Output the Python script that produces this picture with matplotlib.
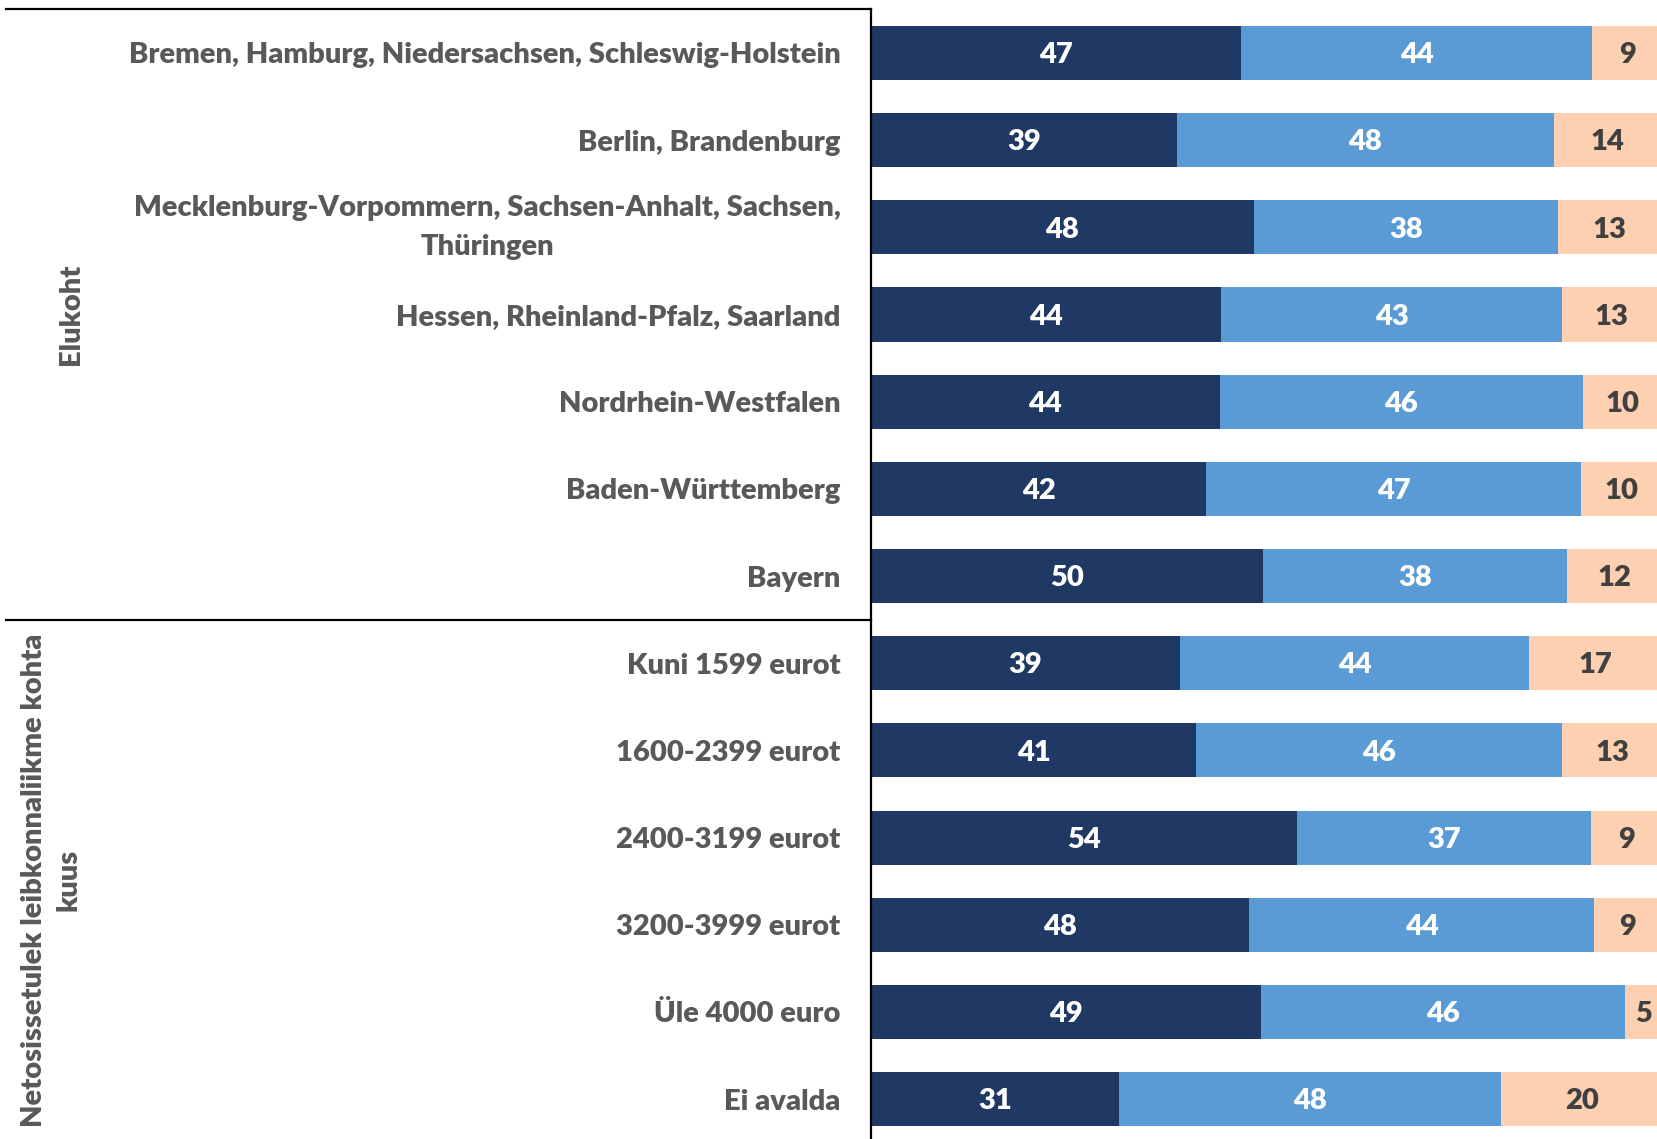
import matplotlib.pyplot as plt
from matplotlib.lines import Line2D
from matplotlib.transforms import blended_transform_factory

categories = [
    "Bremen, Hamburg, Niedersachsen, Schleswig-Holstein",
    "Berlin, Brandenburg",
    "Mecklenburg-Vorpommern, Sachsen-Anhalt, Sachsen,\nThüringen",
    "Hessen, Rheinland-Pfalz, Saarland",
    "Nordrhein-Westfalen",
    "Baden-Württemberg",
    "Bayern",
    "Kuni 1599 eurot",
    "1600-2399 eurot",
    "2400-3199 eurot",
    "3200-3999 eurot",
    "Üle 4000 euro",
    "Ei avalda",
]
# shares in % (100% stacked); labels are rounded
s1 = [46.8, 38.7, 48.4, 44.3, 44.1, 42.4, 49.6, 39.1, 41.1, 53.8, 47.8, 49.3, 31.3]
s2 = [44.4, 47.6, 38.4, 43.0, 45.9, 47.4, 38.4, 44.1, 46.3, 37.2, 43.6, 46.0, 48.4]
s3 = [8.8, 13.7, 13.2, 12.7, 10.0, 10.2, 12.0, 16.8, 12.6, 9.0, 8.6, 4.7, 20.3]
groups = ["Elukoht", "Netosissetulek leibkonnaliikme kohta\nkuus"]

colors = ["#203864", "#5B9BD5", "#FDD0B1"]
txt_colors = ["white", "white", "#404040"]
gray = "#595959"
fs = 21
wt = 800

plt.rcParams['font.family'] = ['Lato', 'DejaVu Sans']

W, H = 1657, 1139
fig = plt.figure(figsize=(W / 100, H / 100), dpi=100)
ax = fig.add_axes([871 / W, 0, 786 / W, 1])

y = list(range(len(categories)))
left = [0] * len(categories)
for vals, c, tc in zip([s1, s2, s3], colors, txt_colors):
    bars = ax.barh(y, vals, left=left, height=0.62, color=c)
    for b, v in zip(bars, vals):
        ax.text(b.get_x() + b.get_width() / 2, b.get_y() + b.get_height() / 2 + 0.025, "%.0f" % v,
                ha='center', va='center', color=tc, fontsize=fs, fontweight=wt)
    left = [l + v for l, v in zip(left, vals)]

pitch = 87.17
ax.set_xlim(0, 100 * 786 / 791)
ax.set_ylim((H - 53) / pitch, -53 / pitch)

ax.set_yticks(y)
ax.set_yticklabels(categories, fontsize=fs, color=gray, fontweight=wt, ha='right',
                   multialignment='center', linespacing=1.6)
for lab in ax.get_yticklabels():
    if "\n" in lab.get_text():
        lab.set_va('center')
ax.tick_params(axis='y', length=0, pad=22)
ax.set_xticks([])
for s in ['top', 'right', 'bottom']:
    ax.spines[s].set_visible(False)
ax.spines['left'].set_color('black')
ax.spines['left'].set_linewidth(1.6)
ax.spines['left'].set_bounds(-0.5, (H - 53) / pitch)

# group separators
tr = blended_transform_factory(fig.transFigure, ax.transData)
for yy in [-0.5, 6.5]:
    fig.add_artist(Line2D([6 / W, 871 / W], [yy, yy], transform=tr, color='black', lw=1.6))

fig.text(71 / W, 1 - 314 / H, groups[0], rotation=90, ha='center', va='center',
         fontsize=fs, color=gray, fontweight=wt)
fig.text(51 / W, 1 - 880 / H, groups[1], rotation=90, ha='center', va='center',
         fontsize=fs, color=gray, fontweight=wt, multialignment='center', linespacing=1.4)

fig.savefig("out.png", dpi=100)
